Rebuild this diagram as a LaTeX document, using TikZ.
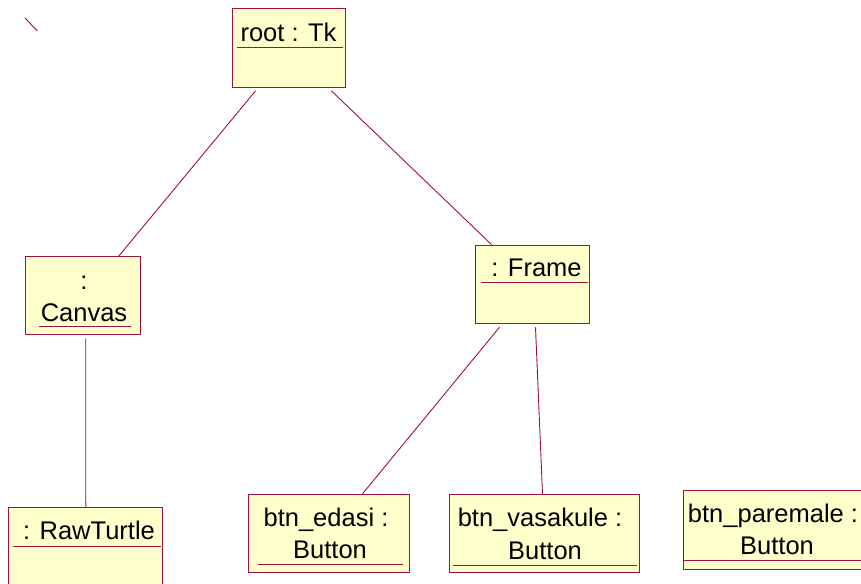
\documentclass[tikz,border=0pt]{standalone}
\usepackage{fontspec}
\setmainfont{Liberation Sans}
\usetikzlibrary{calc}
\definecolor{rosered}{RGB}{160,16,64}
\definecolor{noteyellow}{RGB}{255,255,204}

\begin{document}
\begin{tikzpicture}[x=1pt,y=-1pt,
  obj/.style={draw=rosered,fill=noteyellow,line width=1pt,inner sep=0pt},
  lbl/.style={anchor=base,inner sep=0pt,font=\fontsize{25.5}{30}\selectfont},
  uline/.style={draw=rosered,line width=0.9pt},
  link/.style={draw=rosered,line width=0.9pt}]
  \useasboundingbox (0,0) rectangle (861,583);

  \node[obj,minimum width=113,minimum height=78.7] (root) at (288.8,48.3) {};
  \node[lbl] (rootname) at (288.5,41.7) {root : Tk};
  \draw[uline] (237.3,47.3) -- (342.7,47.3);

  \node[obj,minimum width=114.7,minimum height=78.3] (canvas) at (83.3,295.8) {};
  \node[lbl] (canvasname1) at (84,289) {:};
  \node[lbl] (canvasname2) at (84,321) {Canvas};
  \draw[uline] (39,326.7) -- (130.7,326.7);

  \node[obj,minimum width=113.6,minimum height=78.3] (frame) at (532.5,284.2) {};
  \node[lbl] (framename) at (536.5,276) {: Frame};
  \draw[uline] (480.7,282.7) -- (588,282.7);

  \node[obj,minimum width=154,minimum height=78] (rawturtle) at (85.3,546.3) {};
  \node[lbl] (rawturtlename) at (89,539) {: RawTurtle};
  \draw[uline] (12.7,546) -- (161,546);

  \node[obj,minimum width=161,minimum height=78.4] (edasi) at (328.8,533.5) {};
  \node[lbl] (edasiname1) at (326,526) {btn\_edasi :};
  \node[lbl] (edasiname2) at (330,558.3) {Button};
  \draw[uline] (257.7,564) -- (403.3,564);

  \node[obj,minimum width=190,minimum height=78.4] (vasakule) at (544,533.5) {};
  \node[lbl] (vasakulename1) at (540,526) {btn\_vasakule :};
  \node[lbl] (vasakulename2) at (545,559) {Button};
  \draw[uline] (453.3,565) -- (637.3,565);

  \node[obj,minimum width=190,minimum height=79.3] (paremale) at (778.3,529.7) {};
  \node[lbl] (paremalename1) at (773,522) {btn\_paremale :};
  \node[lbl] (paremalename2) at (777,554) {Button};
  \draw[uline] (684,560) -- (870,560);

  \draw[link] (25,18) -- (37.3,31);

  \draw[link] ([shift={(23.7,2.8)}]root.south west) -- ([xshift=93.3]canvas.north west);
  \draw[link] ([shift={(99.7,2.8)}]root.south west) -- ([xshift=16.3]frame.north west);
  \draw[link] ([shift={(60.3,3)}]canvas.south west) -- ([xshift=78]rawturtle.north west);
  \draw[link] ([shift={(24.3,3.4)}]frame.south west) -- ([xshift=114.7]edasi.north west);
  \draw[link] ([shift={(60.3,3.4)}]frame.south west) -- ([xshift=94]vasakule.north west);
\end{tikzpicture}
\end{document}
